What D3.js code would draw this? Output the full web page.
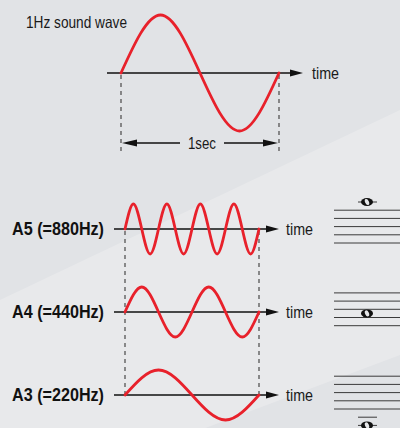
<!DOCTYPE html>
<html>
<head>
<meta charset="utf-8">
<script src="https://cdn.jsdelivr.net/npm/d3@7"></script>
<style>
  body { margin: 0; background: #e1e3e6; }
  svg { display: block; font-family: 'Liberation Sans', Arial, sans-serif; }
  .axis { stroke: #111; stroke-width: 1.3; }
  .guide { stroke: #555; stroke-width: 1.3; stroke-dasharray: 4 4; }
  .wave { fill: none; stroke: #e8212b; stroke-width: 2.8; stroke-linejoin: round; stroke-linecap: round; }
  .staff { stroke: #3a3a3a; stroke-width: 1; }
</style>
</head>
<body>
<div id="chart"></div>
<script>
'use strict';

const W = 400, H = 428;

// 1Hz reference wave, amplitude at every quarter period
const titleText = '1Hz sound wave';
const refWave = [0, 1, 0, -1, 0];

// the three notes
const noteLabels = ['A5 (=880Hz)', 'A4 (=440Hz)', 'A3 (=220Hz)'];
const noteWaves = [
  [0, 1, 0, -1, 0, 1, 0, -1, 0, 1, 0, -1, 0, 1, 0, -1, 0],
  [0, 1, 0, -1, 0, 1, 0, -1, 0],
  [0, 1, 0, -1, 0]
];
// staff position of the note head, in steps above the bottom line (E4 = 0)
const noteSteps = [10, 3, -4];
const axisLabel = 'time';
const spanLabel = '1sec';

window.onload = function () {
  const svg = d3.select('#chart').append('svg')
    .attr('width', W)
    .attr('height', H);

  drawBackground(svg);
  drawReference(svg);
  drawNotes(svg);
  drawStaves(svg);
};

function drawBackground(svg) {
  svg.append('rect')
    .attr('width', W).attr('height', H)
    .attr('fill', '#e1e3e6');
  // lighter diagonal band
  svg.append('path')
    .attr('d', 'M0,300 L400,110 L400,355 L0,505 Z')
    .attr('fill', '#e8e9eb');
}

function arrow(g, x0, x1, y) {
  g.append('line').attr('class', 'axis')
    .attr('x1', x0).attr('x2', x1 - 11).attr('y1', y).attr('y2', y);
  g.append('path')
    .attr('d', 'M' + (x1 - 13) + ',' + (y - 3.6) + ' L' + x1 + ',' + y + ' L' + (x1 - 13) + ',' + (y + 3.6) + ' Z')
    .attr('fill', '#111');
}

function waveLine(x, y) {
  return d3.line()
    .x(function (d, i) { return x(i); })
    .y(function (d) { return y(d); })
    .curve(d3.curveNatural);
}

function label(g, x, y, size, len, str) {
  return g.append('text')
    .attr('x', x).attr('y', y)
    .attr('font-size', size)
    .attr('textLength', len)
    .attr('lengthAdjust', 'spacingAndGlyphs')
    .attr('fill', '#1a1a1a')
    .text(str);
}

function drawReference(svg) {
  const g = svg.append('g');
  const axisY = 73;
  const x = d3.scaleLinear().domain([0, refWave.length - 1]).range([121, 279]);
  const y = d3.scaleLinear().domain([-1, 1]).range([axisY + 58, axisY - 58]);

  label(g, 26, 28, 16.5, 101, titleText);

  // dashed guides at start and end
  [0, refWave.length - 1].forEach(function (i) {
    g.append('line').attr('class', 'guide')
      .attr('x1', x(i)).attr('x2', x(i))
      .attr('y1', axisY + 2).attr('y2', 153);
  });

  arrow(g, 107, 303, axisY);
  label(g, 312, axisY + 6, 16.5, 27, axisLabel);

  g.append('path').attr('class', 'wave')
    .datum(refWave)
    .attr('d', waveLine(x, y));

  // 1sec span arrow
  const sy = 143;
  const x0 = x(0), x1 = x(refWave.length - 1);
  g.append('line').attr('class', 'axis')
    .attr('x1', x0 + 12).attr('x2', 180).attr('y1', sy).attr('y2', sy);
  g.append('line').attr('class', 'axis')
    .attr('x1', 224).attr('x2', x1 - 12).attr('y1', sy).attr('y2', sy);
  g.append('path')
    .attr('d', 'M' + (x0 + 1) + ',' + sy + ' L' + (x0 + 16) + ',' + (sy - 3.5) + ' L' + (x0 + 16) + ',' + (sy + 3.5) + ' Z')
    .attr('fill', '#111');
  g.append('path')
    .attr('d', 'M' + (x1 - 1) + ',' + sy + ' L' + (x1 - 16) + ',' + (sy - 3.5) + ' L' + (x1 - 16) + ',' + (sy + 3.5) + ' Z')
    .attr('fill', '#111');
  label(g, 188, sy + 6, 16.5, 28, spanLabel);
}

function drawNotes(svg) {
  const g = svg.append('g');
  const rowY = d3.scalePoint().domain(noteLabels).range([229, 395]);
  const xs = [125, 259];

  // dashed guides tying the rows together
  xs.forEach(function (xv) {
    g.append('line').attr('class', 'guide')
      .attr('x1', xv).attr('x2', xv)
      .attr('y1', rowY(noteLabels[0]) + 2).attr('y2', rowY(noteLabels[2]));
  });

  noteLabels.forEach(function (name, k) {
    const axisY = rowY(name);
    const data = noteWaves[k];
    const x = d3.scaleLinear().domain([0, data.length - 1]).range(xs);
    const y = d3.scaleLinear().domain([-1, 1]).range([axisY + 25, axisY - 25]);

    label(g, 12, axisY + 6, 18.5, 92, name)
      .attr('font-weight', 'bold')
      .attr('fill', '#111');

    arrow(g, 114, 279, axisY);
    label(g, 286, axisY + 6, 16.5, 27, axisLabel);

    g.append('path').attr('class', 'wave')
      .datum(data)
      .attr('d', waveLine(x, y));
  });
}

function drawStaves(svg) {
  const g = svg.append('g');
  const bottoms = [243, 325.7, 409];
  const step = 4.1;
  const cx = 367;

  noteSteps.forEach(function (s, k) {
    const yPos = d3.scaleLinear().domain([0, 1]).range([bottoms[k], bottoms[k] - step]);

    d3.range(0, 9, 2).forEach(function (l) {
      g.append('line').attr('class', 'staff')
        .attr('x1', 334).attr('x2', W)
        .attr('y1', yPos(l)).attr('y2', yPos(l));
    });

    // ledger lines outside the staff
    let ledgers = [];
    if (s >= 10) ledgers = d3.range(10, s + 1, 2);
    if (s <= -2) ledgers = d3.range(-2, s - 1, -2);
    ledgers.forEach(function (l) {
      g.append('line').attr('class', 'staff')
        .attr('stroke-width', 1.3)
        .attr('x1', cx - 9).attr('x2', cx + 10)
        .attr('y1', yPos(l)).attr('y2', yPos(l));
    });

    // whole note head
    const ny = yPos(s);
    g.append('ellipse')
      .attr('cx', cx).attr('cy', ny)
      .attr('rx', 6).attr('ry', 4)
      .attr('fill', '#111');
    g.append('ellipse')
      .attr('cx', cx).attr('cy', ny)
      .attr('rx', 1.9).attr('ry', 3.2)
      .attr('transform', 'rotate(-25,' + cx + ',' + ny + ')')
      .attr('fill', '#e6e7e9');
  });
}
</script>
</body>
</html>
